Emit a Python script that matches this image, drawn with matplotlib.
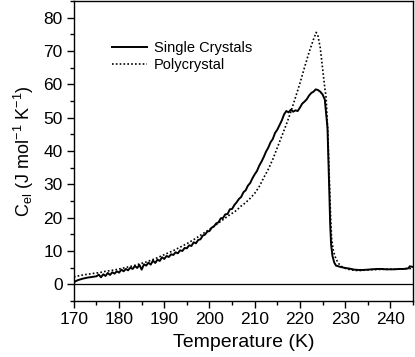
import matplotlib
matplotlib.use('Agg')
import matplotlib.pyplot as plt
from matplotlib.ticker import MultipleLocator

plt.rcParams['font.family'] = ['Liberation Sans', 'DejaVu Sans']
plt.rcParams['mathtext.fontset'] = 'custom'
plt.rcParams['mathtext.rm'] = 'Liberation Sans'
plt.rcParams['mathtext.default'] = 'regular'

# single crystals (solid line)
t_single = [170.0, 170.5, 171, 172, 173, 174, 175, 175.5, 176, 176.5, 177, 177.5,
            178, 178.5, 179, 179.5, 180, 180.5, 181, 181.5, 182, 182.5, 183, 183.5,
            184, 184.5, 185, 185.5, 186, 186.5, 187, 187.5, 188, 188.5, 189, 189.5,
            190, 190.5, 191, 191.5, 192, 192.5, 193, 193.5, 194, 194.5, 195, 195.5,
            196, 196.5, 197, 197.5, 198, 198.5, 199, 199.5, 200, 200.5, 201, 201.5,
            202, 202.5, 203, 203.5, 204, 204.5, 205, 205.5, 206, 206.5, 207, 207.5,
            208, 208.5, 209, 209.5, 210, 210.5, 211, 211.5, 212, 212.5, 213, 213.5,
            214, 214.5, 215, 215.5, 216, 216.5, 217, 217.5, 218, 218.5, 219, 219.5,
            220, 220.5, 221, 221.5, 222, 222.5, 223, 223.5, 224, 224.5, 225, 225.5,
            226.1, 226.3, 226.5, 226.7, 226.9, 227.2, 227.6, 228, 229, 230, 231, 232,
            233, 234, 235, 236, 237, 238, 239, 240, 241, 242, 243, 244, 244.3, 245]
c_single = [0.6, 1.0, 1.3, 1.7, 2.0, 2.2, 2.4, 2.9, 2.1, 3.0, 2.5, 3.4,
            2.8, 3.6, 3.2, 3.9, 3.5, 4.4, 3.9, 4.6, 4.2, 5.0, 4.6, 5.5,
            4.9, 5.8, 4.4, 6.0, 5.6, 6.5, 5.9, 7.1, 6.4, 7.4, 7.0, 8.1,
            7.6, 8.5, 8.2, 9.0, 8.8, 9.6, 9.3, 10.2, 10.0, 10.9, 10.8, 11.7,
            11.5, 12.6, 12.3, 13.3, 13.5, 14.6, 14.9, 15.8, 16.0, 17.0, 17.4, 18.3,
            18.6, 19.8, 19.9, 21.0, 21.1, 22.5, 22.6, 23.8, 24.6, 25.6, 26.2, 27.6,
            28.2, 29.6, 30.4, 31.8, 33.0, 34.0, 35.6, 36.8, 38.2, 39.8, 41.0, 42.6,
            43.6, 45.4, 46.4, 47.8, 49.2, 51.0, 52.0, 51.6, 52.4, 51.8, 52.2, 52.0,
            53.0, 54.2, 54.8, 55.5, 56.6, 57.4, 57.8, 58.5, 58.3, 57.8, 57.0, 55.5,
            47.0, 38.0, 28.0, 18.0, 12.0, 8.5, 6.5, 5.6, 5.2, 4.9, 4.7, 4.4,
            4.3, 4.3, 4.4, 4.5, 4.6, 4.6, 4.5, 4.5, 4.5, 4.6, 4.6, 4.8, 5.4, 5.2]

# polycrystal (dotted line)
t_poly = [170, 171, 172, 173, 174, 175, 176, 177, 178, 179, 180, 181, 182, 183, 184,
          185, 186, 187, 188, 189, 190, 191, 192, 193, 194, 195, 196, 197, 198, 199,
          200, 201, 202, 203, 204, 205, 206, 207, 208, 209, 210, 211, 212, 213, 214,
          215, 216, 217, 218, 219, 220, 221, 222, 223, 223.6, 224, 224.5, 225, 225.5,
          225.8, 226.2, 226.5, 226.8, 227.0, 227.4, 228, 228.7, 229.3, 230, 231, 232,
          233, 234, 235, 236, 237, 238, 239, 240, 242, 244, 245]
c_poly = [2.2, 2.5, 2.8, 3.0, 3.2, 3.4, 3.6, 3.9, 4.1, 4.3, 4.6, 4.9, 5.2, 5.5, 5.9,
          6.3, 6.7, 7.2, 7.7, 8.3, 8.9, 9.5, 10.1, 10.8, 11.5, 12.2, 13.0, 13.8, 14.7, 15.6,
          16.5, 17.4, 18.4, 19.4, 20.4, 21.3, 22.2, 23.5, 24.5, 25.8, 27.3, 29.3, 32.0, 34.5, 37.5,
          41.0, 44.5, 48.0, 51.8, 56.0, 60.3, 65.0, 69.5, 73.5, 75.6, 74.5, 71.0, 65.0, 59.0,
          56.0, 45.0, 32.0, 20.0, 14.0, 10.0, 7.5, 6.0, 5.3, 4.8, 4.4, 4.2,
          4.1, 4.2, 4.3, 4.4, 4.4, 4.5, 4.5, 4.5, 4.6, 4.7, 4.8]

fig = plt.figure(figsize=(4.15, 3.57), dpi=100)
ax = fig.add_axes([0.178, 0.157, 0.817, 0.840])

ax.axhline(0, color='black', lw=0.9)
ax.plot(t_single, c_single, color='black', lw=1.4, label='Single Crystals')
ax.plot(t_poly, c_poly, color='black', lw=1.2, ls=(0, (1, 1.3)), label='Polycrystal')

ax.set_xlim(170, 245)
ax.set_ylim(-5, 85)
ax.xaxis.set_major_locator(MultipleLocator(10))
ax.xaxis.set_minor_locator(MultipleLocator(5))
ax.yaxis.set_major_locator(MultipleLocator(10))
ax.yaxis.set_minor_locator(MultipleLocator(5))
ax.tick_params(which='major', direction='out', length=5, width=1, labelsize=12.5, pad=3)
ax.tick_params(which='minor', direction='out', length=3, width=1)
for s in ax.spines.values():
    s.set_linewidth(1)

ax.set_xlabel('Temperature (K)', fontsize=14, labelpad=5)
ax.set_ylabel('C$_{el}$ (J mol$^{-1}$ K$^{-1}$)', fontsize=13, labelpad=5)

ax.legend(loc='upper left', bbox_to_anchor=(0.09, 0.89), frameon=False,
          fontsize=10.5, handlelength=2.4, handletextpad=0.5, labelspacing=0.2, borderpad=0)

fig.savefig('out.png', dpi=100)
